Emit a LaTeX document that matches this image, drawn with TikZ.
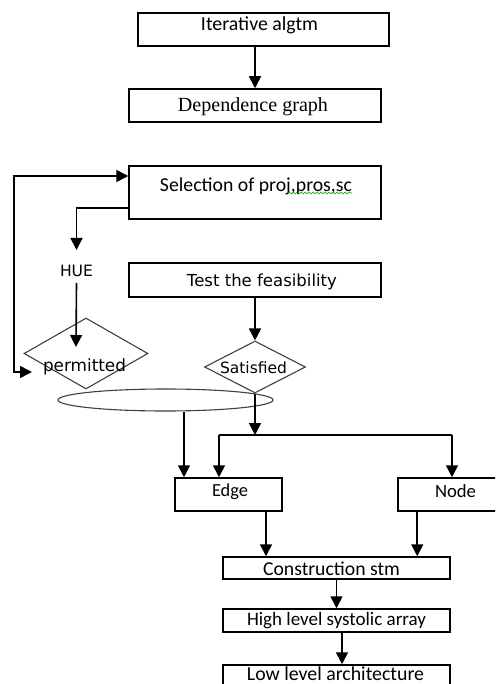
\documentclass[tikz,border=0pt]{standalone}
\usepackage{graphicx}
\usepackage{fontspec}
\setmainfont{Carlito}
\newfontfamily\serifcam{Liberation Serif}
\newfontfamily\verd{DejaVu Sans}
\usetikzlibrary{shapes.geometric,arrows.meta,decorations.pathmorphing}
\newcommand\fw[2]{\resizebox{#1pt}{!}{#2}}
\begin{document}
\begin{tikzpicture}[x=1pt,y=-1pt,
  box/.style={draw, line width=1.5pt, rectangle, inner sep=0pt},
  txt/.style={inner sep=0pt, text=black},
  dia/.style={draw=black!75, line width=1.1pt, diamond, inner sep=0pt},
  arr/.style={line width=1.6pt, -{Triangle[width=12pt,length=12pt]}},
  arrboth/.style={line width=1.6pt, {Triangle[width=12pt,length=12pt]}-{Triangle[width=12pt,length=12pt]}},
  plain/.style={line width=1.6pt}]
\clip (0,0) rectangle (495,684);
\fill[white] (0,0) rectangle (495,684);

% boxes
\node[box, minimum width=251pt, minimum height=33pt] (iter) at (263.5,29.5) {};
\node[txt] (iter-t) at (259.5,25) {\fw{117}{Iterative algtm}};
\node[box, minimum width=252pt, minimum height=33pt] (dep) at (255,105.5) {};
\node[txt] (dep-t) at (253,107) {\fw{150}{\serifcam Dependence graph}};
\node[box, minimum width=252pt, minimum height=53pt] (sel) at (255,192.5) {};
\node[txt] (sel-t) at (256,186) {\fw{192}{Selection of proj,pros,sc}};
\node[box, minimum width=252pt, minimum height=34pt] (test) at (255,280) {};
\node[txt] (test-t) at (262,282) {\fw{150}{\verd Test the feasibility}};

% HUE and decisions
\node[txt] (hue) at (76.5,271) {\fw{33}{\verd HUE}};
\node[dia, minimum width=124pt, minimum height=71pt] (perm) at (86,353.5) {};
\node[txt] (perm-t) at (84.5,367) {\fw{83}{\verd permitted}};
\node[dia, minimum width=101pt, minimum height=52pt] (sat) at (255,367) {};
\node[txt] (sat-t) at (253.5,367.5) {\fw{67}{\verd Satisfied}};
\node[draw=black!75, line width=1.1pt, ellipse, inner sep=0pt, minimum width=215pt, minimum height=22pt] (ell) at (165.5,400) {};

% lower boxes
\node[box, minimum width=107pt, minimum height=33pt] (edge) at (228.5,494.5) {};
\node[txt] (edge-t) at (230,491.5) {\fw{36}{Edge}};
\node[box, minimum width=102pt, minimum height=33pt] (nodeb) at (449,494.5) {};
\node[txt] (nodeb-t) at (455.5,491) {\fw{41}{Node}};
\node[box, minimum width=227pt, minimum height=22pt] (cons) at (336.5,568) {};
\node[txt] (cons-t) at (331.5,569) {\fw{137}{Construction stm}};
\node[box, minimum width=227pt, minimum height=23pt] (high) at (336.5,620.5) {};
\node[txt] (high-t) at (336.5,620.5) {\fw{179}{High level systolic array}};
\node[box, minimum width=227pt, minimum height=40pt] (low) at (336.5,685) {};
\node[txt] (low-t) at (335.5,673.5) {\fw{177}{Low level architecture}};

% spell-check squiggle
\draw[green!60!black, line width=0.6pt, decorate, decoration={snake, amplitude=0.9pt, segment length=4pt}] (288,193) -- (352,193);

% coordinates
\coordinate (lx) at (14,176);
\coordinate (lp) at (32,372);
\coordinate (pt) at (76,347);
\coordinate (bl) at (219,435);
\coordinate (br) at (452,435);
\coordinate (eb) at ([xshift=18.5pt]ell.south);
\coordinate (ec) at ([xshift=37.5pt]edge.south);
\coordinate (nc) at ([xshift=20pt]nodeb.south west);
\coordinate (hc) at ([xshift=5.5pt]high.south);

% connectors
\draw[arr] (iter.south -| dep.north) -- (dep.north);
\draw[arrboth] (lp) -- (lp -| lx) -- (lx) -- (lx -| sel.west);
\draw[arr] ([yshift=-15.5pt]sel.west) -| ([yshift=21pt]hue.center);
\draw[arr] ([yshift=-12pt]hue.center) -- (pt);
\draw[arr] (test.south) -- (sat.north);
\draw[arr] (sat.south) -- (sat.south |- bl);
\draw[plain] (bl) -- (br);
\draw[arr] (bl) -- (bl |- edge.north);
\draw[arr] (br) -- (br |- nodeb.north);
\draw[arr] (eb) -- (eb |- edge.north);
\draw[arr] (ec) -- (ec |- cons.north);
\draw[arr] (nc) -- (nc |- cons.north);
\draw[arr] (cons.south) -- (high.north);
\draw[arr] (hc) -- (hc |- low.north);
\end{tikzpicture}
\end{document}
